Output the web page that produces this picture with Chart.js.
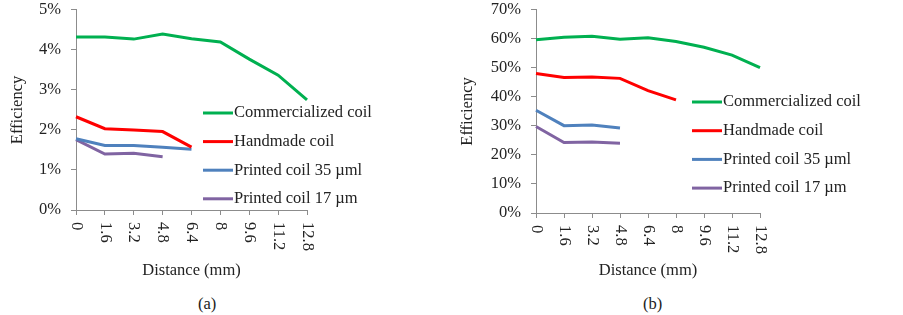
<!DOCTYPE html>
<html>
<head>
<meta charset="utf-8">
<script src="https://cdn.jsdelivr.net/npm/chart.js@4.4.0/dist/chart.umd.min.js"></script>
<style>
  body { margin: 0; background: #fff; width: 903px; height: 315px; position: relative; overflow: hidden; }
  .panel { position: absolute; top: -10px; }
  .caption { position: absolute; top: 294px; font: 16.5px "Liberation Serif", "Times New Roman", serif; color: #222; }
</style>
</head>
<body>
<div class="panel" style="left:0"><canvas id="chartA" width="450" height="292"></canvas></div>
<div class="panel" style="left:450px"><canvas id="chartB" width="453" height="292"></canvas></div>
<div class="caption" style="left:198px">(a)</div>
<div class="caption" style="left:643px">(b)</div>
<script>
// Distância (mm)
const distancias = ['0', '1.6', '3.2', '4.8', '6.4', '8', '9.6', '11.2', '12.8'];
const nomesSeries = ['Commercialized coil', 'Handmade coil', 'Printed coil 35 µml', 'Printed coil 17 µm'];
const coresSeries = ['#00B050', '#FF0000', '#4F81BD', '#8064A2'];

// Gráfico (a) - eficiência em %
const comercialA = [4.32, 4.32, 4.27, 4.40, 4.28, 4.20, 3.77, 3.37, 2.75];
const artesanalA = [2.33, 2.03, 2.00, 1.96, 1.57];
const impresso35A = [1.78, 1.61, 1.61, 1.57, 1.52];
const impresso17A = [1.76, 1.40, 1.42, 1.33];

// Gráfico (b) - eficiência em %
const comercialB = [59.7, 60.6, 60.9, 59.9, 60.4, 59.1, 57.1, 54.4, 50.1];
const artesanalB = [48.1, 46.7, 46.9, 46.4, 42.2, 39.0];
const impresso35B = [35.4, 30.1, 30.3, 29.3];
const impresso17B = [29.8, 24.3, 24.5, 24.0];

const fonte = '"Liberation Serif", "Times New Roman", serif';
const tamFonte = 16.5;
const corTexto = '#222';
const corEixo = '#8c8c8c';

// Plugin para desenhar rótulos verticais do eixo x e a legenda ao lado
const pluginExtras = {
    id: 'extras',
    afterDraw(chart, args, opts) {
        const ctx = chart.ctx;
        const xScale = chart.scales.x;
        ctx.save();
        ctx.fillStyle = corTexto;
        ctx.font = tamFonte + 'px ' + fonte;
        ctx.textAlign = 'left';
        ctx.textBaseline = 'middle';
        chart.data.labels.forEach((label, i) => {
            const x = xScale.getPixelForTick(i);
            ctx.save();
            ctx.translate(x, xScale.top + 12);
            ctx.rotate(Math.PI / 2);
            ctx.fillText(label, 0, 0);
            ctx.restore();
        });

        // Legenda
        chart.data.datasets.forEach((ds, i) => {
            const y = opts.y + i * opts.gap;
            ctx.strokeStyle = ds.borderColor;
            ctx.lineWidth = 3;
            ctx.beginPath();
            ctx.moveTo(opts.x, y);
            ctx.lineTo(opts.x + 30, y);
            ctx.stroke();
            ctx.fillStyle = corTexto;
            ctx.fillText(ds.label, opts.x + 31, y);
        });
        ctx.restore();
    }
};

function criarGrafico(id, series, maxY, passo, larguraY, alturaX, padDireita, legenda) {
    const ctx = document.getElementById(id).getContext('2d');
    return new Chart(ctx, {
        type: 'line',
        data: {
            labels: distancias,
            datasets: series.map((dados, i) => ({
                label: nomesSeries[i],
                data: dados,
                borderColor: coresSeries[i],
                backgroundColor: coresSeries[i],
                borderWidth: 3,
                pointRadius: 0,
                tension: 0,
                fill: false
            }))
        },
        options: {
            responsive: false,
            animation: false,
            devicePixelRatio: 1,
            layout: { padding: { top: 8, right: padDireita, left: 0, bottom: 0 } },
            scales: {
                x: {
                    type: 'category',
                    offset: false,
                    afterFit: scale => { scale.height = alturaX; },
                    grid: { display: true, drawOnChartArea: false, tickLength: 5, color: corEixo },
                    border: { color: corEixo, width: 1 },
                    ticks: { display: false },
                    title: {
                        display: true,
                        text: 'Distance (mm)',
                        color: corTexto,
                        font: { family: fonte, size: tamFonte },
                        padding: { top: 0, bottom: 1 }
                    }
                },
                y: {
                    min: 0,
                    max: maxY,
                    afterFit: scale => { scale.width = larguraY; },
                    grid: { display: true, drawOnChartArea: false, tickLength: 5, color: corEixo },
                    border: { color: corEixo, width: 1 },
                    ticks: {
                        stepSize: passo,
                        padding: 10,
                        color: corTexto,
                        font: { family: fonte, size: tamFonte },
                        callback: v => v + '%'
                    },
                    title: {
                        display: true,
                        text: 'Efficiency',
                        color: corTexto,
                        font: { family: fonte, size: tamFonte },
                        padding: { top: 8, bottom: 0 }
                    }
                }
            },
            plugins: {
                legend: { display: false },
                tooltip: { enabled: false },
                extras: legenda
            }
        },
        plugins: [pluginExtras]
    });
}

criarGrafico('chartA', [comercialA, artesanalA, impresso35A, impresso17A], 5, 1, 76, 72, 143,
    { x: 203, y: 123, gap: 28.6 });
criarGrafico('chartB', [comercialB, artesanalB, impresso35B, impresso17B], 70, 10, 86, 69, 143,
    { x: 242, y: 112, gap: 28.7 });
</script>
</body>
</html>
